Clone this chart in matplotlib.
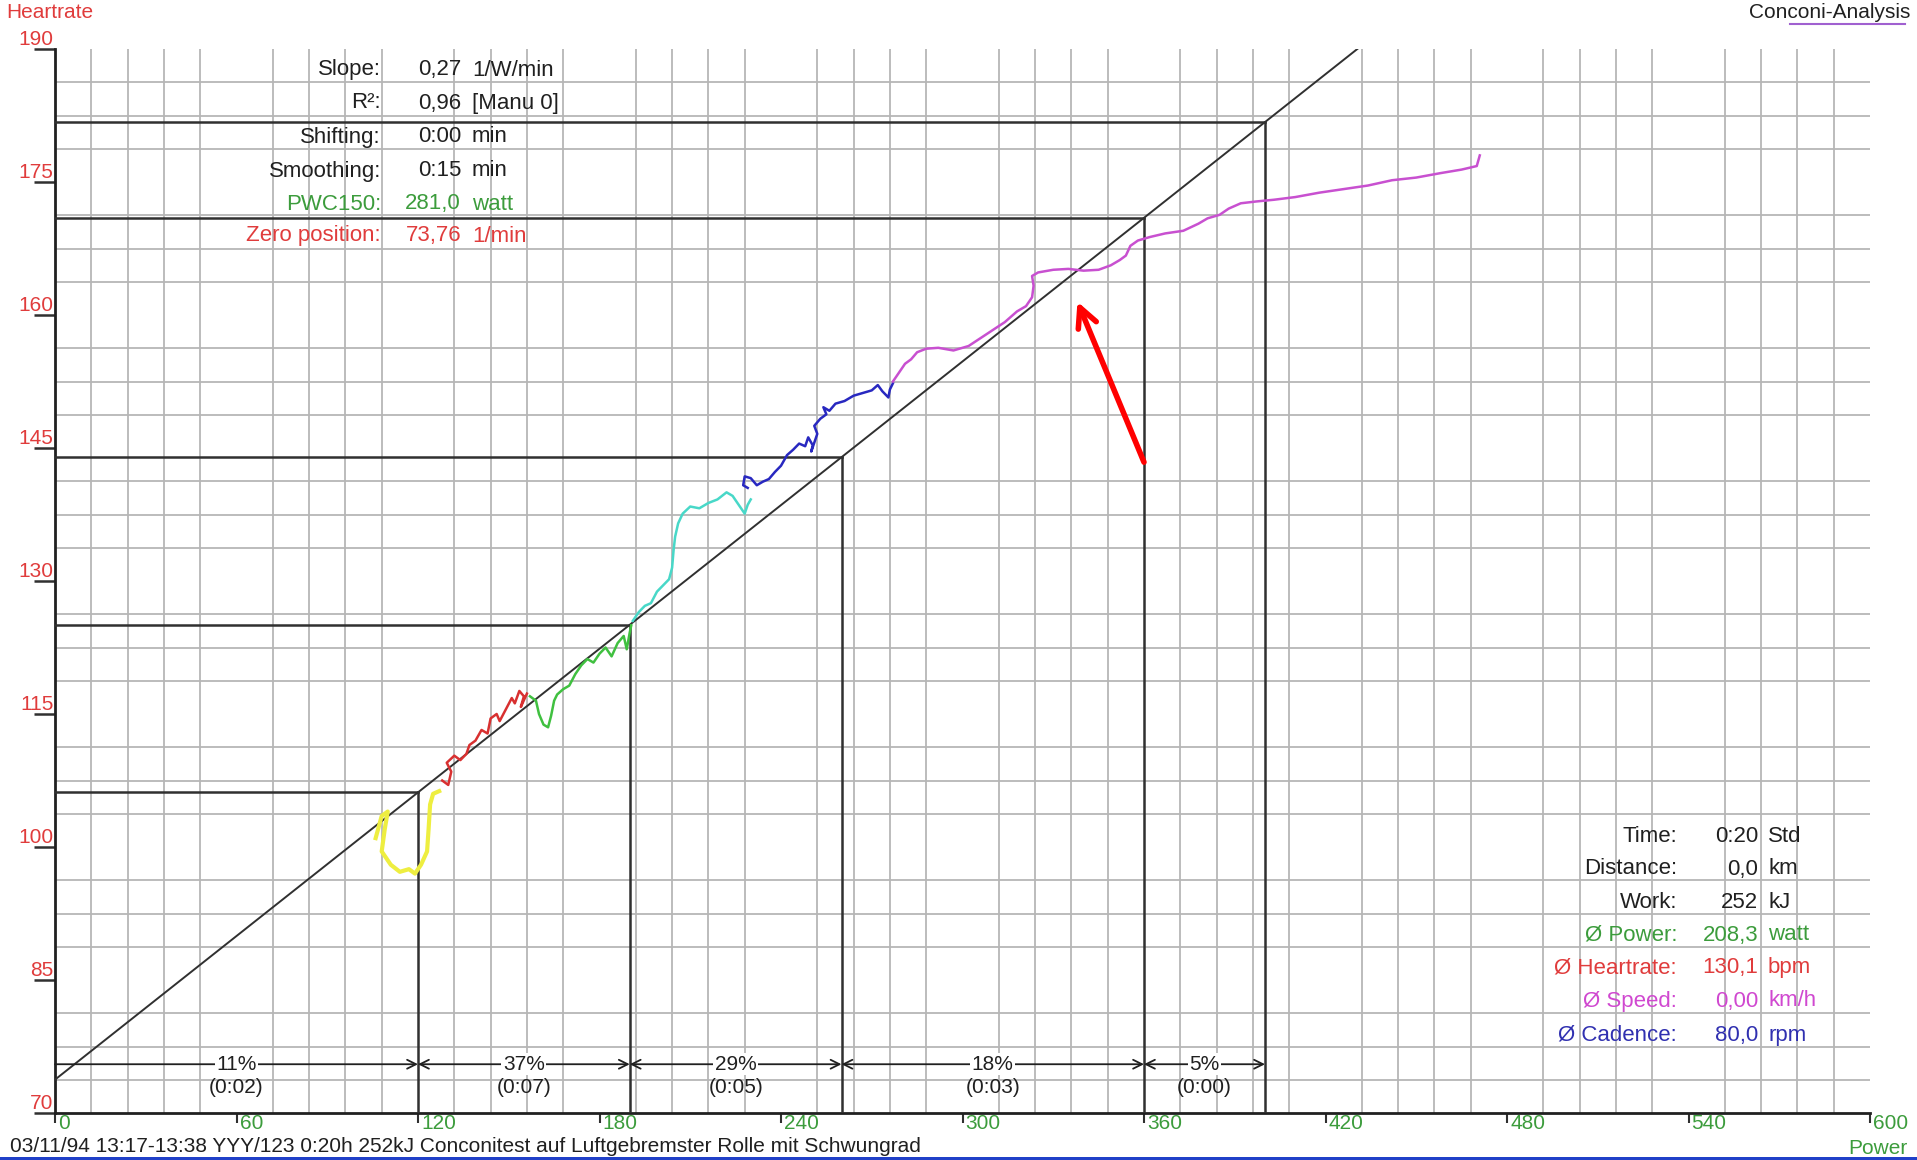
import numpy as np
import matplotlib
matplotlib.use("Agg")
import matplotlib.pyplot as plt
import matplotlib.transforms as mtransforms
from matplotlib.patches import Rectangle

plt.rcParams['font.family'] = ['Liberation Sans Narrow', 'Liberation Sans', 'DejaVu Sans']

# regression (Conconi line)
slope = 0.27
zero_hr = 73.76

# deflection markers (watt) and the segment labels
breaks_w = [120, 190, 260, 360, 400]
seg_pct = ["11%", "37%", "29%", "18%", "5%"]
seg_time = ["(0:02)", "(0:07)", "(0:05)", "(0:03)", "(0:00)"]

# measured curve, one piece per stage colour
yellow_w = [106, 108, 110, 109, 108, 111, 114, 117, 119, 121, 123, 123.5, 124, 125, 127]
yellow_hr = [101, 103.5, 104, 102, 99.5, 98, 97.2, 97.5, 97, 98, 99.5, 102, 104.8, 106, 106.3]

red_w = [128, 130, 131, 129.5, 132, 134, 136, 137, 139, 141, 143, 144, 146, 147, 149, 151, 152, 153.5, 155, 154, 156]
red_hr = [107.5, 107, 108.5, 109.5, 110.3, 109.8, 110.5, 111.5, 112, 113.2, 112.8, 114.5, 115, 114.2, 115.5,
          116.8, 116.2, 117.6, 117, 115.8, 117.3]

green_w = [157, 159, 160, 161.5, 163, 164, 165, 166, 168, 170, 172, 174, 176, 178, 180, 182, 184, 186, 188, 189, 190, 190.5]
green_hr = [117, 116.5, 115, 113.8, 113.5, 114.8, 116.5, 117.2, 117.8, 118.2, 119.5, 120.5, 121.2, 120.8, 121.8,
            122.5, 121.5, 123, 123.8, 122.3, 124.2, 125]

cyan_w = [191, 193, 195, 197, 199, 201, 203, 204, 204.5, 205, 206, 207.5, 210, 213, 216, 219, 222, 224, 226, 228, 229, 230]
cyan_hr = [125.5, 126.5, 127.2, 127.5, 128.8, 129.5, 130.2, 131.5, 133.5, 135, 136.5, 137.6, 138.4, 138.2, 138.8,
           139.2, 140, 139.6, 138.6, 137.6, 138.6, 139.2]

blue_w = [229, 227.5, 228, 230, 232, 234, 236, 238, 240, 242, 244, 246, 248, 249, 250.5, 250, 252, 251, 253, 255,
          254, 256, 258, 261, 264, 267, 270, 272, 273.5, 275.5, 276, 277]
blue_hr = [140.5, 140.8, 141.8, 141.6, 140.8, 141.2, 141.5, 142.3, 143, 144.2, 144.8, 145.5, 145.2, 146.2, 145.3,
           144.6, 146.6, 147.5, 148.3, 148.8, 149.6, 149.2, 150, 150.3, 150.9, 151.2, 151.5, 152.1, 151.4, 150.7,
           151.6, 152.3]

magenta_w = [277, 279, 281, 283, 285, 288, 292, 297, 302, 306, 310, 314, 318, 321, 323, 323.5, 323, 325, 330, 335,
             340, 345, 349, 352, 354, 355.5, 358, 362, 367, 373, 378, 381, 385, 388, 392, 397, 403, 410, 418, 426,
             434, 442, 450, 458, 465, 470, 471]
magenta_hr = [152.5, 153.5, 154.5, 155, 155.8, 156.2, 156.3, 156, 156.5, 157.4, 158.3, 159.2, 160.4, 161, 162,
              163.3, 164.4, 164.8, 165.1, 165.2, 165.0, 165.1, 165.6, 166.2, 166.7, 167.8, 168.4, 168.8, 169.2,
              169.5, 170.3, 170.9, 171.3, 172, 172.6, 172.8, 173, 173.3, 173.8, 174.2, 174.6, 175.2, 175.5, 176,
              176.4, 176.8, 178]

# text blocks
top_labels = ["Slope:", "R²:", "Shifting:", "Smoothing:", "PWC150:", "Zero position:"]
top_values = ["0,27", "0,96", "0:00", "0:15", "281,0", "73,76"]
top_units = ["1/W/min", "[Manu 0]", "min", "min", "watt", "1/min"]

bot_labels = ["Time:", "Distance:", "Work:", "Ø Power:", "Ø Heartrate:", "Ø Speed:", "Ø Cadence:"]
bot_values = ["0:20", "0,0", "252", "208,3", "130,1", "0,00", "80,0"]
bot_units = ["Std", "km", "kJ", "watt", "bpm", "km/h", "rpm"]

# red pointer (tail, head) in watt / bpm
pointer_tail = (360, 143.4)
pointer_head = (338, 161.5)

C_GREEN = "#3c9c3c"
C_RED = "#e03c3c"
C_MAG = "#d048d0"
C_BLUE = "#3030b0"

fig = plt.figure(figsize=(19.17, 11.60), dpi=100)
ax = fig.add_axes([55 / 1917, 1 - 1113 / 1160, 1815 / 1917, 1064 / 1160])

ax.set_xlim(0, 600)
ax.set_ylim(70, 190)

# grid
ax.set_xticks(np.arange(0, 601, 12), minor=True)
ax.set_yticks(np.arange(70, 190.1, 3.75), minor=True)
ax.grid(which='minor', color='#b6b6b6', lw=1.3)
ax.tick_params(which='minor', length=0)
ax.set_axisbelow(True)

for s in ['top', 'right']:
    ax.spines[s].set_visible(False)
for s in ['left', 'bottom']:
    ax.spines[s].set_linewidth(2)
    ax.spines[s].set_color('#202020')

# y ticks (red, sitting on the tick)
ax.set_yticks(np.arange(70, 191, 15))
ax.tick_params(axis='y', which='major', length=15, width=1.8, color='#303030',
               pad=-14, labelsize=15, labelcolor=C_RED)
for lbl in ax.get_yticklabels():
    lbl.set_verticalalignment('bottom')

# x ticks (green, right of the tick)
ax.set_xticks(np.arange(0, 601, 60))
ax.tick_params(axis='x', which='major', length=7, width=1.5, color='#303030',
               pad=-6, labelsize=15, labelcolor=C_GREEN)
off = mtransforms.ScaledTranslation(3 / 100, 0, fig.dpi_scale_trans)
for lbl in ax.get_xticklabels():
    lbl.set_horizontalalignment('left')
    lbl.set_transform(lbl.get_transform() + off)

# regression line
xs = np.array([0, 600])
ax.plot(xs, zero_hr + slope * xs, color='#303030', lw=1.4, zorder=3)

# marker lines
for b in breaks_w:
    hr = zero_hr + slope * b
    ax.plot([0, b], [hr, hr], color='#303030', lw=1.8, zorder=3)
    ax.plot([b, b], [70, hr], color='#303030', lw=1.8, zorder=3)

# segment arrows
starts = [0] + breaks_w[:-1]
for i, (a, b) in enumerate(zip(starts, breaks_w)):
    style = '->' if i == 0 else '<->'
    ax.annotate('', xy=(b, 75.5), xytext=(a, 75.5),
                arrowprops=dict(arrowstyle=style, color='#202020', lw=1.3,
                                shrinkA=0, shrinkB=0, mutation_scale=16), zorder=4)
    ax.text((a + b) / 2, 75.5, seg_pct[i], ha='center', va='center', fontsize=15,
            color='#202020', zorder=5,
            bbox=dict(facecolor='white', edgecolor='none', pad=1))
    ax.text((a + b) / 2, 72.9, seg_time[i], ha='center', va='center', fontsize=15,
            color='#202020', zorder=5)

# measured curve
pieces = [(yellow_w, yellow_hr, '#eeee40', 3.0),
          (red_w, red_hr, '#d83030', 1.8),
          (green_w, green_hr, '#40c040', 1.8),
          (cyan_w, cyan_hr, '#48d8c8', 1.8),
          (blue_w, blue_hr, '#2828c0', 1.8),
          (magenta_w, magenta_hr, '#c850d0', 1.8)]
for w, hr, c, lw in pieces:
    ax.plot(w, hr, color=c, lw=lw, zorder=4)

# red pointer
ax.annotate('', xy=pointer_head, xytext=pointer_tail,
            arrowprops=dict(arrowstyle='->', color='#ff0000', lw=4,
                            shrinkA=0, shrinkB=0, mutation_scale=35), zorder=6)

# top-left info block
top_rows = [70, 103, 137, 171, 204, 236]
top_cols = ['#202020', '#202020', '#202020', '#202020', C_GREEN, C_RED]
for i in range(len(top_labels)):
    y = 1 - top_rows[i] / 1160
    fig.text(381 / 1917, y, top_labels[i], ha='right', va='center', fontsize=16, color=top_cols[i])
    fig.text(461 / 1917, y, top_values[i], ha='right', va='center', fontsize=16, color=top_cols[i])
    fig.text(472 / 1917, y, top_units[i], ha='left', va='center', fontsize=16, color=top_cols[i])

# bottom-right info block
bot_rows = [836, 869, 902, 935, 968, 1001, 1035]
bot_cols = ['#202020', '#202020', '#202020', C_GREEN, C_RED, C_MAG, C_BLUE]
for i in range(len(bot_labels)):
    y = 1 - bot_rows[i] / 1160
    fig.text(1677 / 1917, y, bot_labels[i], ha='right', va='center', fontsize=16, color=bot_cols[i])
    fig.text(1758 / 1917, y, bot_values[i], ha='right', va='center', fontsize=16, color=bot_cols[i])
    fig.text(1768 / 1917, y, bot_units[i], ha='left', va='center', fontsize=16, color=bot_cols[i])

# titles / captions
fig.text(6 / 1917, 1 - 13 / 1160, "Heartrate", ha='left', va='center', fontsize=15, color=C_RED)
fig.text(1910 / 1917, 1 - 13 / 1160, "Conconi-Analysis", ha='right', va='center', fontsize=15, color='#202020')
fig.add_artist(plt.Line2D([1790 / 1917, 1905 / 1917], [1 - 24 / 1160, 1 - 24 / 1160],
                          color='#a060d0', lw=1.5, transform=fig.transFigure))
fig.text(1907 / 1917, 1 - 1148 / 1160, "Power", ha='right', va='center', fontsize=15, color=C_GREEN)
fig.text(10 / 1917, 1 - 1147 / 1160,
         "03/11/94 13:17-13:38 YYY/123 0:20h 252kJ Conconitest auf Luftgebremster Rolle mit Schwungrad",
         ha='left', va='center', fontsize=15, color='#202020')

# blue strip at the very bottom
fig.add_artist(Rectangle((0, 0), 1, 3 / 1160, transform=fig.transFigure, color='#2040c8', lw=0))

fig.savefig("out.png", dpi=100)
